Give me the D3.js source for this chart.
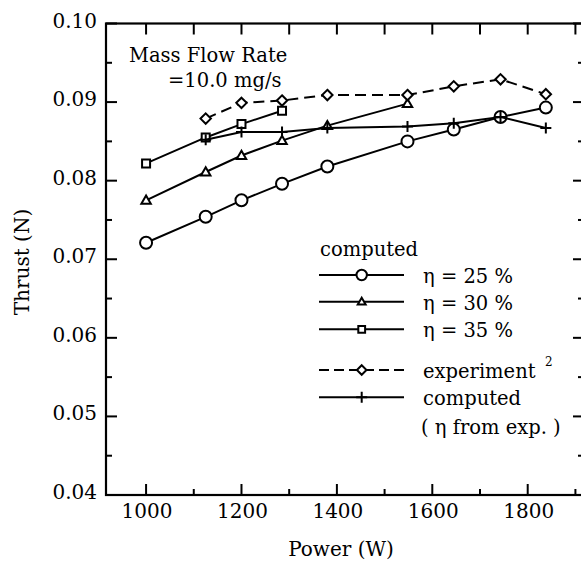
<!DOCTYPE html>
<html><head><meta charset="utf-8">
<script src="https://cdn.jsdelivr.net/npm/d3@7"></script>
<style>
html,body{margin:0;padding:0;background:#fff;}
</style></head>
<body><svg id="c" width="581" height="564" font-family="'DejaVu Serif', 'Liberation Serif', serif"></svg>
<script>
// ---- data ----
const power = [1000, 1125, 1200, 1285, 1380, 1548, 1645, 1743, 1838];
const eta25 = [0.0721, 0.0754, 0.0775, 0.0796, 0.0818, 0.0850, 0.0865, 0.0881, 0.0893];
const eta30 = [0.0775, 0.0811, 0.0832, 0.0851, 0.0870, 0.0898];
const eta35 = [0.0822, 0.0855, 0.0872, 0.0889];
const expPower = [1125, 1200, 1285, 1380, 1548, 1645, 1743, 1838];
const experiment = [0.0879, 0.0899, 0.0902, 0.0909, 0.0909, 0.0920, 0.0929, 0.0910];
const computedExp = [0.0852, 0.0862, 0.0862, 0.0867, 0.0869, 0.0873, 0.0881, 0.0867];
const xTicks = [1000, 1200, 1400, 1600, 1800];
const yTicks = [0.04, 0.05, 0.06, 0.07, 0.08, 0.09, 0.10];

const svg = d3.select("#c");
svg.append("rect").attr("width",581).attr("height",564).attr("fill","#fff");

const L=106, R=584, T=23.5, B=495;
const x = d3.scaleLinear().domain([916, 1918]).range([L, R]);
const y = d3.scaleLinear().domain([0.04, 0.10]).range([B, T]);

const FS = 19.5, FT = 20;

function mk(type, s){
  return function(cx, cy){
    if(type==="circle") return `M${cx-s},${cy}a${s},${s} 0 1,0 ${2*s},0a${s},${s} 0 1,0 ${-2*s},0Z`;
    if(type==="square") return `M${cx-s},${cy-s}h${2*s}v${2*s}h${-2*s}Z`;
    if(type==="triangle") return `M${cx},${cy-s*1.1}L${cx+s*1.1},${cy+s*0.8}L${cx-s*1.1},${cy+s*0.8}Z`;
    if(type==="diamond") return `M${cx},${cy-s}L${cx+s},${cy}L${cx},${cy+s}L${cx-s},${cy}Z`;
    if(type==="plus") return `M${cx-s},${cy}H${cx+s}M${cx},${cy-s}V${cy+s}`;
  };
}

const series = [
  {xs: power, ys: eta25, type:"circle", s:6, dash:null},
  {xs: power.slice(0, eta30.length), ys: eta30, type:"triangle", s:4.3, dash:null},
  {xs: power.slice(0, eta35.length), ys: eta35, type:"square", s:4, dash:null},
  {xs: expPower, ys: experiment, type:"diamond", s:5.2, dash:"11,6"},
  {xs: expPower, ys: computedExp, type:"plus", s:5.5, dash:null}
];

const line = d3.line().x(d=>x(d[0])).y(d=>y(d[1]));
series.forEach(sr=>{
  const pts = sr.xs.map((p,i)=>[p, sr.ys[i]]);
  svg.append("path").attr("d", line(pts)).attr("fill","none").attr("stroke","#000")
    .attr("stroke-width",2).attr("stroke-dasharray", sr.dash);
  const g = mk(sr.type, sr.s);
  svg.append("g").selectAll("path").data(pts).join("path")
    .attr("d", d=>g(x(d[0]), y(d[1])))
    .attr("fill", sr.type==="plus" ? "none" : "#fff")
    .attr("stroke","#000").attr("stroke-width",2);
});

svg.append("rect").attr("x",L).attr("y",T).attr("width",R-L).attr("height",B-T)
  .attr("fill","none").attr("stroke","#000").attr("stroke-width",2.2);

const xMinor = d3.range(1000, 1901, 100);
const yMinor = d3.range(0, 13).map(i => 0.04 + i*0.005);
const tk = svg.append("g").attr("stroke","#000").attr("stroke-width",2);
xMinor.forEach(v=>{
  const len = (Math.round(v) % 200 === 0) ? 11 : 6;
  tk.append("line").attr("x1",x(v)).attr("x2",x(v)).attr("y1",B).attr("y2",B-len);
  tk.append("line").attr("x1",x(v)).attr("x2",x(v)).attr("y1",T).attr("y2",T+11);
});
yMinor.forEach((v,i)=>{
  const len = (i % 2 === 0) ? 11 : 6;
  tk.append("line").attr("x1",L).attr("x2",L+len).attr("y1",y(v)).attr("y2",y(v));
  tk.append("line").attr("x1",R).attr("x2",R-len).attr("y1",y(v)).attr("y2",y(v));
});

svg.append("g").selectAll("text").data(xTicks).join("text")
  .attr("x", d=>x(d)+1).attr("y", 518).attr("text-anchor","middle")
  .attr("font-size",FT).text(d=>d);
svg.append("g").selectAll("text").data(yTicks).join("text")
  .attr("x", 97).attr("y", d=>y(d)+4).attr("text-anchor","end")
  .attr("font-size",FT).text(d=>d3.format(".2f")(d));

svg.append("text").attr("x",341).attr("y",556).attr("text-anchor","middle")
  .attr("font-size",FT).text("Power (W)");
svg.append("text").attr("transform","translate(29,262) rotate(-90)").attr("text-anchor","middle")
  .attr("font-size",FT).text("Thrust (N)");

svg.append("text").attr("x",129).attr("y",62).attr("font-size",FS).text("Mass Flow Rate");
svg.append("text").attr("x",168).attr("y",87).attr("font-size",FS).text("=10.0 mg/s");

svg.append("text").attr("x",320).attr("y",256).attr("font-size",FS).text("computed");
const legend = [
  {type:"circle", s:5.2, dash:null, yy:275, label:"η = 25 %"},
  {type:"triangle", s:3.6, dash:null, yy:301.7, label:"η = 30 %"},
  {type:"square", s:3.4, dash:null, yy:329.3, label:"η = 35 %"},
  {type:"diamond", s:4.8, dash:"10,5", yy:370, label:"experiment"},
  {type:"plus", s:5.5, dash:null, yy:397.3, label:"computed"}
];
legend.forEach(l=>{
  svg.append("line").attr("x1",319).attr("x2",404).attr("y1",l.yy).attr("y2",l.yy)
    .attr("stroke","#000").attr("stroke-width",2).attr("stroke-dasharray",l.dash);
  svg.append("path").attr("d", mk(l.type,l.s)(361.7, l.yy))
    .attr("fill", l.type==="plus" ? "none" : "#fff").attr("stroke","#000").attr("stroke-width",2);
  svg.append("text").attr("x",423).attr("y",l.yy+8).attr("font-size",FS).text(l.label);
});
svg.append("text").attr("x",545).attr("y",366).attr("font-size",12).text("2");
svg.append("text").attr("x",421).attr("y",434).attr("font-size",FS).text("( η from exp. )");
</script></body></html>
